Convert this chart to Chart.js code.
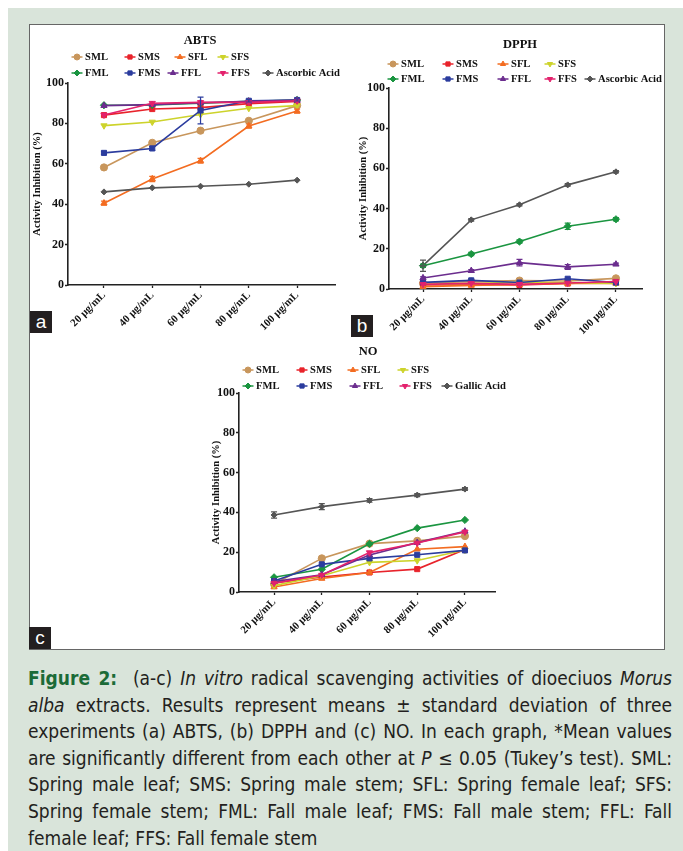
<!DOCTYPE html>
<html>
<head>
<meta charset="utf-8">
<script src="https://cdn.jsdelivr.net/npm/chart.js@4.4.1/dist/chart.umd.min.js"></script>
<style>
  html, body { margin: 0; padding: 0; background: #fff; }
  #page { position: relative; width: 683px; height: 851px; overflow: hidden; }
  #bg { position: absolute; left: 8px; top: 8px; right: 0; bottom: 0; background: #d9e4da; }
  #fig { position: absolute; left: 29px; top: 24px; width: 636px; height: 626px; background: #fff;
         border: 1.5px solid #666; box-sizing: border-box; }
  .pane { position: absolute; }
  .tag { position: absolute; background: #231f20; color: #fff; width: 22px; height: 22px;
         font: 19px "Liberation Sans", Arial, sans-serif; line-height: 21px; text-align: center; }
  #caption { position: absolute; left: 28px; top: 665px; width: 644px; color: #231f20;
             font-family: "Liberation Sans Narrow", "DejaVu Sans Condensed", sans-serif;
             font-size: 19px; line-height: 26.6px; }
  #caption .ln { text-align: justify; text-align-last: justify; }
  #caption .last { text-align: left; }
  #caption b { color: #1b6b37; }
</style>
</head>
<body>
<div id="page">
  <div id="bg"></div>
  <div id="fig"></div>
  <div class="pane" style="left:29px;top:23px;width:322px;height:315px"><canvas id="abts"></canvas></div>
  <div class="pane" style="left:340px;top:23px;width:325px;height:315px"><canvas id="dpph"></canvas></div>
  <div class="pane" style="left:200px;top:338px;width:320px;height:305px"><canvas id="no"></canvas></div>
  <div class="tag" style="left:30px;top:311px">a</div>
  <div class="tag" style="left:351px;top:315px">b</div>
  <div class="tag" style="left:29px;top:627px">c</div>
  <div id="caption">
    <div class="ln"><b>Figure 2:</b>&nbsp; (a-c) <i>In vitro</i> radical scavenging activities of dioeciuos <i>Morus</i></div>
    <div class="ln"><i>alba</i> extracts. Results represent means ± standard deviation of three</div>
    <div class="ln">experiments (a) ABTS, (b) DPPH and (c) NO. In each graph, *Mean values</div>
    <div class="ln">are significantly different from each other at <i>P</i> ≤ 0.05 (Tukey’s test). SML:</div>
    <div class="ln">Spring male leaf; SMS: Spring male stem; SFL: Spring female leaf; SFS:</div>
    <div class="ln">Spring female stem; FML: Fall male leaf; FMS: Fall male stem; FFL: Fall</div>
    <div class="last">female leaf; FFS: Fall female stem</div>
  </div>
</div>
<script>
const doses = [20, 40, 60, 80, 100];
const doseLabels = ["20 µg/mL", "40 µg/mL", "60 µg/mL", "80 µg/mL", "100 µg/mL"];
const extracts = ["SML", "SMS", "SFL", "SFS", "FML", "FMS", "FFL", "FFS"];

// ABTS (%)
const abtsSML = [58.2, 70.4, 76.4, 81.3, 88.8];
const abtsSMS = [84.1, 87.1, 87.8, 89.8, 90.9];
const abtsSFL = [40.5, 52.5, 61.5, 78.7, 86.1];
const abtsSFS = [78.9, 80.7, 84.4, 87.5, 88.8];
const abtsFML = [89.0, 89.1, 90.0, 90.9, 91.6];
const abtsFMS = [65.4, 67.6, 86.4, 91.2, 91.6];
const abtsFFL = [88.8, 89.3, 90.2, 90.9, 91.4];
const abtsFFS = [84.2, 90.0, 90.4, 90.4, 91.2];
const abtsAscorbic = [46.1, 48.1, 48.9, 49.9, 51.9];
const abtsFMSsd = [0.8, 1.0, 6.6, 0.6, 0.5];
const abtsSFLsd = [1.0, 1.3, 1.2, 1.0, 1.0];

// DPPH (%)
const dpphSML = [2.8, 3.7, 4.2, 4.0, 5.3];
const dpphSMS = [2.0, 2.3, 2.0, 2.7, 3.5];
const dpphSFL = [1.2, 1.8, 2.3, 2.8, 2.8];
const dpphSFS = [2.3, 2.8, 3.3, 3.2, 2.8];
const dpphFML = [11.6, 17.4, 23.6, 31.2, 34.7];
const dpphFMS = [3.3, 4.3, 3.2, 5.1, 3.2];
const dpphFFL = [5.5, 9.1, 13.1, 11.0, 12.3];
const dpphFFS = [2.3, 2.8, 2.3, 3.0, 3.7];
const dpphAscorbic = [11.6, 34.4, 41.9, 51.8, 58.3];
const dpphAscorbicSd = [2.8, 0.6, 0.6, 0.6, 0.6];
const dpphFMLsd = [0.8, 0.8, 0.8, 1.6, 0.8];
const dpphFFLsd = [0.6, 0.6, 1.6, 1.2, 0.6];

// NO (%)
const noSML = [4.0, 16.9, 24.3, 25.7, 28.1];
const noSMS = [4.5, 7.5, 9.8, 11.5, 21.3];
const noSFL = [2.5, 6.8, 9.8, 21.5, 22.8];
const noSFS = [3.2, 8.2, 14.9, 15.8, 21.1];
const noFML = [7.4, 11.4, 24.2, 32.1, 36.2];
const noFMS = [5.5, 13.9, 16.9, 18.7, 20.9];
const noFFL = [5.2, 8.7, 18.6, 24.8, 30.5];
const noFFS = [4.4, 8.5, 19.8, 24.6, 30.2];
const noGallic = [38.7, 42.9, 46.0, 48.7, 51.7];
const noGallicSd = [1.6, 1.5, 0.9, 0.8, 0.7];

const colors = ["#c8965c", "#e8232b", "#f36c21", "#cdd32b", "#1a9540", "#2b3c9e", "#6b2d8e", "#e3216c", "#555555"];
const shapes = ["circle", "rect", "triangle", "triangle", "rectRot", "rect", "triangle", "triangle", "rectRot"];
const turns = [0, 0, 0, 180, 0, 0, 0, 180, 0];
const serif = "'Liberation Serif', 'Times New Roman', serif";

function buildSets(seriesList, labels, sds) {
  return seriesList.map((vals, i) => ({
    label: labels[i],
    data: vals.map((v, j) => ({ x: doses[j], y: v })),
    sd: sds[i] || null,
    borderColor: colors[i],
    backgroundColor: colors[i],
    pointStyle: shapes[i],
    pointRotation: turns[i],
    pointRadius: i === 8 ? 3 : 3.6,
    pointBorderWidth: 1,
    borderWidth: 1.6,
    order: -i,
  }));
}

// title + legend drawn in GraphPad style
const gpLegend = {
  id: "gpLegend",
  afterDraw(chart, args, o) {
    const ctx = chart.ctx;
    ctx.save();
    ctx.fillStyle = "#111";
    ctx.textAlign = "center";
    ctx.textBaseline = "middle";
    ctx.font = "bold 12.5px " + serif;
    ctx.fillText(o.title, o.titleX, o.titleY);
    ctx.font = "bold 10.6px " + serif;
    ctx.textAlign = "left";
    chart.data.datasets.forEach((ds, i) => {
      const [x, y] = o.items[i];
      ctx.strokeStyle = ds.borderColor;
      ctx.fillStyle = ds.backgroundColor;
      ctx.lineWidth = 1.5;
      ctx.beginPath();
      ctx.moveTo(x - 5.5, y);
      ctx.lineTo(x + 5.5, y);
      ctx.stroke();
      ctx.lineWidth = 1;
      Chart.helpers.drawPoint(ctx, { pointStyle: ds.pointStyle, rotation: ds.pointRotation, radius: 3, borderWidth: 1 }, x, y);
      ctx.fillStyle = "#111";
      ctx.fillText(ds.label, x + 8, y + 0.5);
    });
    ctx.restore();
  },
};

const errorBars = {
  id: "errorBars",
  afterDatasetsDraw(chart) {
    const ctx = chart.ctx;
    const ys = chart.scales.y;
    ctx.save();
    chart.data.datasets.forEach((ds, i) => {
      if (!ds.sd) return;
      const meta = chart.getDatasetMeta(i);
      ctx.strokeStyle = ds.borderColor;
      ctx.lineWidth = 1.2;
      meta.data.forEach((pt, j) => {
        const v = ds.data[j].y, s = ds.sd[j];
        const top = ys.getPixelForValue(v + s), bot = ys.getPixelForValue(v - s);
        ctx.beginPath();
        ctx.moveTo(pt.x, top); ctx.lineTo(pt.x, bot);
        ctx.moveTo(pt.x - 3, top); ctx.lineTo(pt.x + 3, top);
        ctx.moveTo(pt.x - 3, bot); ctx.lineTo(pt.x + 3, bot);
        ctx.stroke();
      });
    });
    ctx.restore();
  },
};

function makeChart(id, sets, lay) {
  return new Chart(document.getElementById(id), {
    type: "line",
    data: { datasets: sets },
    plugins: [errorBars, gpLegend],
    options: {
      responsive: true,
      maintainAspectRatio: false,
      animation: false,
      layout: { padding: { top: lay.top, right: lay.right, left: 0, bottom: 0 } },
      plugins: {
        legend: { display: false },
        tooltip: { enabled: false },
        gpLegend: lay.legend,
      },
      scales: {
        x: {
          type: "linear",
          min: lay.xmin,
          max: lay.xmax,
          afterBuildTicks: (s) => { s.ticks = doses.map((v) => ({ value: v })); },
          afterFit: (s) => { s.height = lay.xh; s.paddingLeft = 0; s.paddingRight = 0; },
          ticks: {
            autoSkip: false,
            minRotation: 45,
            maxRotation: 45,
            padding: 1,
            color: "#111",
            font: { family: serif, size: 10.8, weight: "bold" },
            callback: (v) => doseLabels[doses.indexOf(v)],
          },
          grid: { drawOnChartArea: false, tickLength: 3, color: "#222", tickWidth: 1.3 },
          border: { color: "#222", width: 1.6 },
        },
        y: {
          min: 0,
          max: 100,
          afterFit: (s) => { s.width = lay.yw; s.paddingTop = 0; s.paddingBottom = 0; },
          ticks: {
            stepSize: 20,
            padding: 1,
            color: "#111",
            font: { family: serif, size: 12, weight: "bold" },
          },
          title: {
            display: true,
            text: "Activity Inhibition (%)",
            color: "#111",
            font: { family: serif, size: 10.5, weight: "bold" },
            padding: { top: lay.tpad, bottom: 0 },
          },
          grid: { drawOnChartArea: false, tickLength: 3, color: "#222", tickWidth: 1.3 },
          border: { color: "#222", width: 1.6 },
        },
      },
    },
  });
}

makeChart(
  "abts",
  buildSets([abtsSML, abtsSMS, abtsSFL, abtsSFS, abtsFML, abtsFMS, abtsFFL, abtsFFS, abtsAscorbic],
            extracts.concat(["Ascorbic Acid"]),
            [null, null, abtsSFLsd, null, null, abtsFMSsd]),
  {
    top: 60, right: 16, xh: 53, yw: 39, tpad: 1.7, xmin: 5.1, xmax: 115.7,
    legend: {
      title: "ABTS", titleX: 171, titleY: 18,
      items: [[48, 34], [101, 34], [151, 34], [194, 34], [48, 50], [101, 50], [144, 50], [194, 50], [239, 50]],
    },
  }
);

makeChart(
  "dpph",
  buildSets([dpphSML, dpphSMS, dpphSFL, dpphSFS, dpphFML, dpphFMS, dpphFFL, dpphFFS, dpphAscorbic],
            extracts.concat(["Ascorbic Acid"]),
            [null, null, null, null, dpphFMLsd, null, dpphFFLsd, null, dpphAscorbicSd]),
  {
    top: 65, right: 23, xh: 49, yw: 49, tpad: 16.5, xmin: 5.9, xmax: 110.8,
    legend: {
      title: "DPPH", titleX: 180, titleY: 22,
      items: [[53, 41], [108, 41], [163, 41], [210, 41], [53, 56], [108, 56], [163, 56], [210, 56], [250, 56]],
    },
  }
);

makeChart(
  "no",
  buildSets([noSML, noSMS, noSFL, noSFS, noFML, noFMS, noFFL, noFFS, noGallic],
            extracts.concat(["Gallic Acid"]),
            [null, null, null, null, null, null, null, null, noGallicSd]),
  {
    top: 55, right: 25, xh: 51, yw: 39, tpad: 9.7, xmin: 5.3, xmax: 112.6,
    legend: {
      title: "NO", titleX: 168, titleY: 14,
      items: [[48, 32], [102, 32], [153, 32], [203, 32], [48, 48], [102, 48], [155, 48], [205, 48], [247, 48]],
    },
  }
);
</script>
</body>
</html>
